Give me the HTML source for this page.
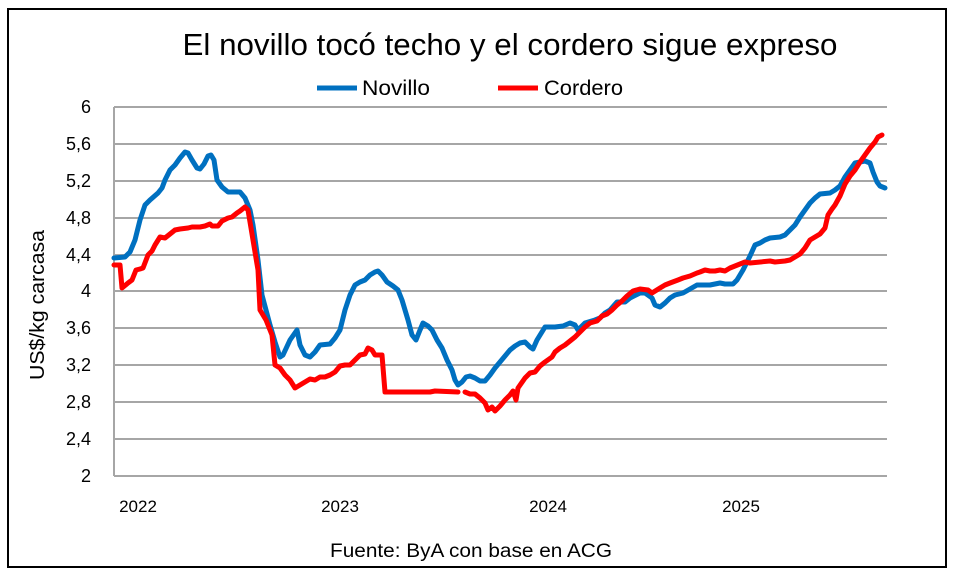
<!DOCTYPE html>
<html><head><meta charset="utf-8"><style>
body{margin:0;background:#fff;}
svg{display:block;font-family:"Liberation Sans",Calibri,sans-serif;}
</style></head><body>
<svg width="956" height="577" viewBox="0 0 956 577" xmlns="http://www.w3.org/2000/svg">
<rect x="0" y="0" width="956" height="577" fill="#fff"/>
<rect x="8" y="9" width="938" height="558" fill="none" stroke="#000" stroke-width="2"/>
<text x="510" y="55" font-size="31" text-anchor="middle" fill="#000" textLength="655" lengthAdjust="spacingAndGlyphs">El novillo tocó techo y el cordero sigue expreso</text>
<line x1="317" y1="88" x2="357" y2="88" stroke="#0070c0" stroke-width="5"/>
<text x="362" y="95" font-size="21" textLength="68" lengthAdjust="spacingAndGlyphs">Novillo</text>
<line x1="498" y1="88" x2="538" y2="88" stroke="#ff0000" stroke-width="5"/>
<text x="544" y="95" font-size="21" textLength="79" lengthAdjust="spacingAndGlyphs">Cordero</text>
<g stroke="#a6a6a6" stroke-width="2">
<line x1="114" y1="107" x2="887" y2="107"/><line x1="114" y1="144" x2="887" y2="144"/>
<line x1="114" y1="181" x2="887" y2="181"/><line x1="114" y1="218" x2="887" y2="218"/>
<line x1="114" y1="255" x2="887" y2="255"/><line x1="114" y1="291" x2="887" y2="291"/>
<line x1="114" y1="328" x2="887" y2="328"/><line x1="114" y1="365" x2="887" y2="365"/>
<line x1="114" y1="402" x2="887" y2="402"/><line x1="114" y1="439" x2="887" y2="439"/>
<line x1="114" y1="476" x2="887" y2="476"/>
<line x1="114" y1="107" x2="114" y2="476"/>
</g>
<g font-size="18" text-anchor="end">
<text x="91" y="113">6</text><text x="91" y="150">5,6</text><text x="91" y="187">5,2</text>
<text x="91" y="224">4,8</text><text x="91" y="261">4,4</text><text x="91" y="297">4</text>
<text x="91" y="334">3,6</text><text x="91" y="371">3,2</text><text x="91" y="408">2,8</text>
<text x="91" y="445">2,4</text><text x="91" y="482">2</text>
</g>
<text transform="translate(44,305) rotate(-90)" font-size="20" text-anchor="middle" textLength="150" lengthAdjust="spacingAndGlyphs">US$/kg carcasa</text>
<g font-size="17" text-anchor="middle">
<text x="138" y="512">2022</text><text x="340" y="512">2023</text>
<text x="548" y="512">2024</text><text x="741" y="512">2025</text>
</g>
<text x="471" y="557" font-size="19" text-anchor="middle" textLength="282" lengthAdjust="spacingAndGlyphs">Fuente: ByA con base en ACG</text>
<g fill="none" stroke-width="5" stroke-linejoin="round" stroke-linecap="round">
<polyline stroke="#0070c0" points="114,258 125,257 130,252 135,240 140,220 145,205 150,200 158,193 162,188 165,180 170,170 175,165 180,158 185,152 188,153 192,160 197,168 200,169 204,164 208,156 211,155 214,160 217,180 222,187 228,192 240,192 245,198 250,210 253,225 258,260 262,295 266,310 270,325 275,342 280,357 283,355 290,340 297,330 300,345 305,355 310,357 315,352 320,345 330,344 335,338 340,330 345,310 350,295 355,285 360,282 365,280 370,275 375,272 378,271 382,275 387,282 393,286 398,290 402,300 408,320 412,335 416,340 420,330 423,323 428,326 432,330 437,340 442,348 447,360 452,370 455,380 458,385 462,382 466,377 470,376 475,378 480,381 485,381 490,375 495,368 500,362 505,356 510,350 515,346 520,343 525,342 530,347 533,349 537,340 545,327 555,327 563,326 570,323 575,325 578,330 585,323 595,320 600,318 605,313 610,310 617,302 625,302 630,298 640,293 645,293 652,298 655,305 660,307 665,303 670,298 675,295 683,293 690,289 697,285 710,285 720,283 725,284 733,284 737,280 743,270 750,256 755,245 760,243 765,240 770,238 780,237 785,235 790,230 795,225 800,217 805,210 810,203 815,198 820,194 830,193 835,190 840,186 845,177 850,170 855,163 860,162 865,161 870,163 873,172 877,182 880,186 885,188"/>
<polyline stroke="#ff0000" points="114,265 120,265 122,288 128,283 132,280 136,270 140,269 143,268 148,255 152,251 155,245 160,237 165,238 170,234 175,230 180,229 188,228 192,227 200,227 205,226 210,224 212,226 218,226 222,221 228,218 232,217 237,213 240,211 245,207 248,210 253,240 258,270 260,310 266,320 272,335 275,365 280,368 285,375 290,380 295,388 300,385 305,382 310,379 315,380 320,377 325,377 330,375 335,372 340,366 345,365 350,365 355,360 360,355 365,354 368,348 372,350 375,355 382,355 385,392 430,392 435,391 458,392"/>
<polyline stroke="#ff0000" points="465,392 470,394 475,394 480,398 485,403 488,410 492,407 495,411 500,406 505,400 510,395 513,391 516,400 518,388 525,378 530,373 535,372 540,366 545,362 552,357 555,352 560,348 565,345 570,341 575,337 580,332 585,327 590,323 597,321 602,316 607,314 612,310 617,305 622,301 627,296 633,291 640,289 648,290 652,293 660,288 665,285 670,283 678,280 683,278 690,276 697,273 700,272 705,270 710,271 715,271 720,270 725,271 730,268 735,266 740,264 745,262 750,263 770,261 775,262 785,261 790,260 795,257 800,254 805,248 810,240 815,237 820,234 825,228 828,215 832,209 835,205 840,196 845,184 850,176 855,170 860,162 865,155 870,148 875,142 878,137 882,135"/>
</g>
</svg>
</body></html>
